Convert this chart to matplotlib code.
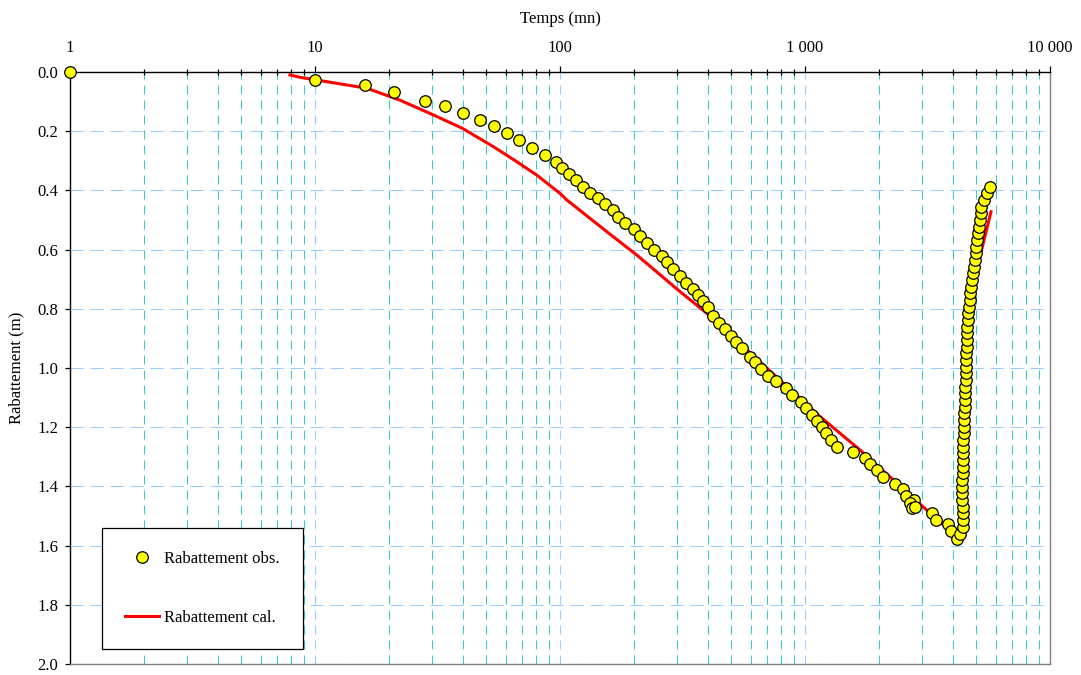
import matplotlib
matplotlib.use("Agg")
import matplotlib.pyplot as plt
from matplotlib.ticker import FixedLocator, NullFormatter
import numpy as np

plt.rcParams['font.family'] = ['Liberation Serif', 'DejaVu Serif']
plt.rcParams['font.size'] = 12

# Observed drawdown - pumping phase (time [mn], drawdown [m])
t_pompage = [1, 10, 16, 21, 28, 34, 40, 47, 54, 61, 68, 77, 87, 96, 102, 109, 116, 124,
             133, 143, 153, 164, 173, 185, 200, 212, 227, 242, 261, 274, 290, 310, 326,
             348, 366, 383, 401, 420, 447, 473, 499, 524, 552, 595, 625, 660, 709, 759,
             834, 888, 960, 1010, 1071, 1122, 1177, 1215, 1273, 1354, 1565, 1757, 1842,
             1962, 2076, 2330, 2504, 2576, 2793, 2683, 2726, 2812, 3308, 3425, 3845,
             3960, 4160, 4290]
s_pompage = [0.000, 0.027, 0.045, 0.069, 0.097, 0.115, 0.138, 0.161, 0.183, 0.206, 0.230,
             0.258, 0.280, 0.304, 0.324, 0.345, 0.365, 0.389, 0.409, 0.426, 0.446, 0.466,
             0.489, 0.509, 0.531, 0.554, 0.577, 0.601, 0.622, 0.642, 0.666, 0.689, 0.712,
             0.734, 0.753, 0.774, 0.795, 0.823, 0.847, 0.868, 0.891, 0.912, 0.933, 0.962,
             0.981, 1.003, 1.027, 1.044, 1.069, 1.091, 1.114, 1.136, 1.159, 1.178, 1.200,
             1.221, 1.243, 1.268, 1.285, 1.303, 1.325, 1.345, 1.367, 1.392, 1.410, 1.432,
             1.446, 1.457, 1.474, 1.469, 1.489, 1.514, 1.528, 1.550, 1.577, 1.561]

# Observed drawdown - recovery phase
t_remontee = [4395, 4403, 4399, 4395, 4391, 4387, 4387, 4391, 4395, 4399, 4408, 4416,
              4424, 4433, 4441, 4449, 4457, 4470, 4478, 4491, 4499, 4508, 4520, 4533,
              4541, 4550, 4558, 4571, 4584, 4592, 4605, 4622, 4648, 4670, 4701, 4732,
              4768, 4804, 4845, 4882, 4923, 4965, 5003, 5050, 5088, 5132, 5170, 5204,
              5253, 5362, 5516, 5690]
s_remontee = [1.537, 1.514, 1.490, 1.470, 1.446, 1.422, 1.402, 1.378, 1.355, 1.334, 1.311,
              1.287, 1.267, 1.243, 1.220, 1.199, 1.176, 1.152, 1.132, 1.108, 1.084, 1.064,
              1.041, 1.017, 0.997, 0.973, 0.949, 0.929, 0.905, 0.882, 0.861, 0.838, 0.814,
              0.794, 0.770, 0.747, 0.726, 0.703, 0.679, 0.659, 0.635, 0.611, 0.591, 0.568,
              0.544, 0.524, 0.500, 0.476, 0.456, 0.432, 0.409, 0.389]

# Calculated drawdown
t_cal = [7.9, 8.7, 16.3, 22.2, 30.4, 39.9, 53.4, 66.6, 80.3, 100, 106.5, 155, 205.6, 309,
         397, 543, 791, 1151, 1677, 2293, 3139, 4161, 4253, 4374, 4457, 4541, 4648, 4804,
         4965, 5097, 5378, 5743]
s_cal = [0.010, 0.018, 0.055, 0.095, 0.145, 0.190, 0.252, 0.303, 0.348, 0.410, 0.432,
         0.539, 0.618, 0.742, 0.815, 0.917, 1.041, 1.164, 1.277, 1.378, 1.480, 1.571,
         1.547, 1.463, 1.311, 1.108, 0.905, 0.770, 0.686, 0.646, 0.568, 0.472]

x_ticks = [1, 10, 100, 1000, 10000]
x_labels = ["1", "10", "100", "1 000", "10 000"]
y_ticks = [0.0, 0.2, 0.4, 0.6, 0.8, 1.0, 1.2, 1.4, 1.6, 1.8, 2.0]

t_obs = t_pompage + t_remontee
s_obs = s_pompage + s_remontee

fig = plt.figure(figsize=(10.81, 6.75), dpi=100)
ax = fig.add_axes([70 / 1081, 1 - 664 / 675, 980 / 1081, 592 / 675])

ax.plot(t_cal, s_cal, color="#FF0000", lw=2.2, zorder=3, label="Rabattement cal.")
ax.plot(t_obs, s_obs, ls="none", marker="o", ms=8.3, mfc="#FFFF00", mec="black",
        mew=0.9, zorder=4, clip_on=False, label="Rabattement obs.")

ax.set_xscale("log")
ax.set_xlim(1, 10000)
ax.set_ylim(2.0, 0.0)

ax.xaxis.tick_top()
ax.xaxis.set_label_position("top")
ax.set_xticks(x_ticks)
ax.set_xticklabels(x_labels)
minor = [m * d for d in [1, 10, 100, 1000] for m in range(2, 10)]
ax.xaxis.set_minor_locator(FixedLocator(minor))
ax.xaxis.set_minor_formatter(NullFormatter())
ax.set_yticks(y_ticks)
ax.set_yticklabels([f"{v:.1f}" for v in y_ticks])

ax.tick_params(axis="x", which="major", direction="out", length=4.5, width=0.9, pad=7)
ax.tick_params(axis="x", which="minor", direction="inout", length=4, width=0.9)
ax.tick_params(axis="y", which="major", direction="out", length=3.6, width=0.9, pad=5)

ax.set_xlabel("Temps (mn)", labelpad=12)
ax.set_ylabel("Rabattement (m)", labelpad=9)

# grid
ax.grid(which="minor", axis="x", color="#33CCCC", lw=0.75, ls=(0, (8.6, 5.8)), snap=True)
ax.grid(which="major", axis="x", color="#99CCFF", lw=0.75, ls=(0, (8.6, 5.8)), snap=True)
ax.grid(which="major", axis="y", color="#99CCFF", lw=0.75, ls=(0, (12.5, 6.7)), snap=True)
ax.set_axisbelow(True)

for side in ["top", "left"]:
    ax.spines[side].set_color("black")
    ax.spines[side].set_linewidth(1.0)
for side in ["bottom", "right"]:
    ax.spines[side].set_color("#808080")
    ax.spines[side].set_linewidth(1.0)

handles, labels = ax.get_legend_handles_labels()
leg = ax.legend(handles[::-1], labels[::-1], loc="lower left",
                bbox_to_anchor=(32 / 980, 15 / 592), borderaxespad=0,
                fancybox=False, framealpha=1, edgecolor="black",
                borderpad=1.4, labelspacing=2.55, handlelength=2.0, handletextpad=0.3,
                fontsize=12)
leg.get_frame().set_linewidth(0.9)
leg.set_zorder(5)

fig.savefig("out.png", dpi=100)
